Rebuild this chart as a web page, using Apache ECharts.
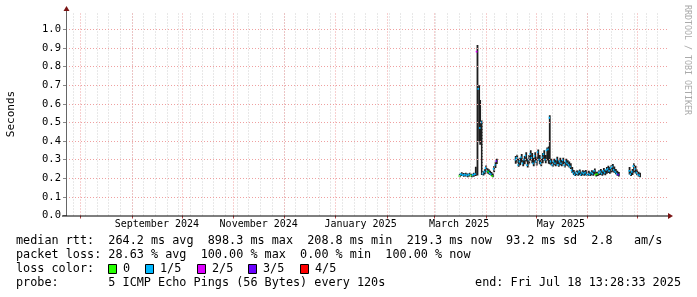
<!DOCTYPE html>
<html>
<head>
<meta charset="utf-8">
<script src="https://cdn.jsdelivr.net/npm/echarts@6.0.0/dist/echarts.min.js"></script>
<style>
html,body{margin:0;padding:0;background:#fff;}
#chart{width:697px;height:297px;}
</style>
</head>
<body>
<div id="chart"></div>
<script>
// ---- data (day offsets from 2025-03-01 UTC) ----
const days = [
  15.4,16.6,17.8,19.0,20.2,21.4,22.6,23.8,25.0,26.0,27.0,27.6,28.6,29.6,30.4,31.2,32.0,32.8,33.6,34.4,35.2,36.0,36.8,37.6,
  48.9,49.8,50.7,51.6,52.5,53.4,54.3,55.2,56.1,57.0,57.9,58.8,59.7,60.6,61.5,62.4,63.3,64.2,65.1,66.0,66.9,67.8,68.7,69.3,
  70.2,71.1,72.0,72.9,73.8,74.7,75.6,76.5,77.4,78.3,79.2,80.1,81.0,81.9,82.8,83.7,84.6,85.5,86.4,87.3,88.2,89.1,90.0,90.9,
  91.8,92.7,93.6,94.5,95.4,96.3,97.2,98.1,99.0,99.9,100.8,101.7,102.6,103.5,104.4,105.3,106.2,107.1,108.0,108.9,109.8,110.7,
  117.1,118.0,118.9,119.8,120.7,121.6,122.5,123.4
];
const medianSec = [
  .212,.222,.217,.220,.215,.219,.214,.218,.222,.880,.680,.470,.500,.225,.235,.255,.240,.235,.228,.222,.212,.250,.272,.292,
  .300,.310,.272,.290,.312,.280,.300,.322,.270,.300,.330,.310,.280,.320,.290,.340,.300,.282,.312,.330,.300,.350,.355,.525,
  .290,.272,.290,.280,.300,.272,.290,.280,.298,.270,.290,.280,.272,.262,.242,.230,.220,.230,.225,.235,.220,.230,.225,.230,
  .220,.225,.220,.230,.225,.240,.220,.222,.230,.235,.225,.240,.230,.245,.250,.240,.255,.262,.245,.235,.225,.220,
  .240,.222,.235,.265,.250,.230,.220,.215
];
const smokeLo = [
  .205,.212,.208,.210,.206,.210,.205,.208,.212,.215,.400,.380,.218,.215,.222,.236,.226,.222,.218,.212,.205,.232,.255,.276,
  .278,.285,.262,.270,.285,.265,.275,.290,.258,.275,.295,.280,.265,.285,.268,.295,.275,.265,.280,.295,.280,.295,.278,.275,
  .270,.262,.270,.264,.275,.262,.270,.264,.275,.258,.268,.264,.258,.250,.228,.218,.212,.216,.214,.218,.212,.216,.214,.216,
  .212,.214,.212,.216,.214,.220,.210,.212,.216,.218,.214,.220,.216,.224,.228,.224,.230,.235,.228,.222,.214,.210,
  .220,.212,.218,.230,.226,.216,.210,.206
];
const smokeHi = [
  .224,.232,.228,.230,.226,.230,.224,.229,.262,.915,.700,.620,.510,.238,.248,.268,.254,.248,.240,.234,.226,.266,.286,.305,
  .320,.326,.305,.310,.330,.305,.320,.340,.305,.325,.350,.335,.310,.340,.315,.355,.325,.305,.335,.350,.325,.365,.370,.538,
  .305,.295,.305,.300,.315,.295,.310,.300,.310,.290,.305,.297,.290,.280,.260,.245,.235,.243,.240,.247,.235,.243,.240,.245,
  .235,.240,.233,.243,.240,.253,.235,.235,.245,.250,.240,.255,.245,.260,.267,.260,.270,.277,.263,.250,.240,.233,
  .260,.237,.250,.280,.267,.247,.235,.230
];
// loss level per step (number of lost pings out of 5)
const lossLevel = [
  0,1,1,1,1,1,0,1,1,2,1,1,1,1,1,1,1,0,1,1,0,1,1,3,
  1,1,1,1,1,1,1,1,1,1,1,1,1,1,1,1,1,1,1,1,1,1,1,1,
  1,1,1,1,1,1,1,1,1,1,1,1,1,1,1,1,1,1,1,1,1,1,1,1,
  1,1,1,1,1,1,0,0,1,1,1,1,1,1,1,1,1,1,1,1,1,3,
  1,1,1,1,1,1,1,1
];
const lossLabels = ['0','1/5','2/5','3/5','4/5'];
const lossColors = ['#26ff00','#00b8ff','#dd00ff','#6a00ff','#ff0000'];

const yTickValues = [0.0,0.1,0.2,0.3,0.4,0.5,0.6,0.7,0.8,0.9,1.0];
const xLabelTexts = ['September 2024','November 2024','January 2025','March 2025','May 2025'];
const xLabelDates = [[2024,8,16],[2024,10,16],[2025,0,16],[2025,2,16],[2025,4,16]];

const legendRtt = 'median rtt:  264.2 ms avg  898.3 ms max  208.8 ms min  219.3 ms now  93.2 ms sd  2.8   am/s';
const legendLoss = 'packet loss: 28.63 % avg  100.00 % max  0.00 % min  100.00 % now';
const legendProbe = 'probe:       5 ICMP Echo Pings (56 Bytes) every 120s';
const legendEnd = 'end: Fri Jul 18 13:28:33 2025';

// ---- build ----
const DAY = 86400000;
const T0 = Date.UTC(2025,2,1);
const START = Date.UTC(2024,6,23,13,28,33);
const END = Date.UTC(2025,6,18,13,28,33);

const pts = days.map((d,i)=>{
  const t = T0 + d*DAY;
  let pt = -1, pm = -1;
  if (i>0 && d - days[i-1] < 3) { pt = T0 + days[i-1]*DAY; pm = medianSec[i-1]; }
  return [t, medianSec[i], smokeLo[i], smokeHi[i], lossLevel[i], pt, pm];
});

const monthLines = [];
for (let k=0;k<12;k++){ monthLines.push(Date.UTC(2024,7+k,1)); }
const weekLines = [];
for (let t=Date.UTC(2024,6,28); t<END; t+=7*DAY) weekLines.push(t);
const xLabelTs = xLabelDates.map(a=>Date.UTC(a[0],a[1],a[2]));

const MONO = 'DejaVu Sans Mono';
const LF = '11.8px "DejaVu Sans Mono"';
const chart = echarts.init(document.getElementById('chart'), null, {renderer:'canvas'});

const gridL = 66, gridT = 13, gridW = 601, gridH = 202.5;
const axisY = gridT + gridH;

const option = {
  animation:false,
  backgroundColor:'#ffffff',
  grid:{left:gridL, top:gridT, width:gridW, height:gridH, containLabel:false},
  xAxis:{
    type:'value', min:START, max:END,
    axisLine:{show:false},
    splitLine:{show:false},
    axisTick:{show:true, customValues:monthLines, length:3, lineStyle:{color:'#b04040'}},
    axisLabel:{
      customValues:xLabelTs, margin:4, fontFamily:MONO, fontSize:10, color:'#000',
      formatter:(v)=>{ const i = xLabelTs.indexOf(v); return i>=0 ? xLabelTexts[i] : ''; }
    }
  },
  yAxis:{
    type:'value', min:0, max:1.0875,
    axisLine:{show:false},
    splitLine:{show:false},
    axisTick:{show:true, customValues:yTickValues, length:3, lineStyle:{color:'#888'}},
    axisLabel:{customValues:yTickValues, margin:5, fontFamily:MONO, fontSize:10.5, color:'#000',
      formatter:(v)=>v.toFixed(1)}
  },
  series:[
    {
      type:'line', data:[], silent:true,
      markLine:{
        silent:true, symbol:['none','none'], label:{show:false}, animation:false,
        lineStyle:{color:'#d0d0d0', type:[1,2], width:1},
        data: weekLines.map(t=>({xAxis:t}))
      }
    },
    {
      type:'line', data:[], silent:true,
      markLine:{
        silent:true, symbol:['none','none'], label:{show:false}, animation:false,
        lineStyle:{color:'#efa0a0', type:[1,2], width:1},
        data: monthLines.map(t=>({xAxis:t})).concat(yTickValues.filter(v=>v>0).map(v=>({yAxis:v})))
      }
    },
    {
      type:'custom', clip:true, silent:true,
      data: pts,
      renderItem:(params, api)=>{
        const t = api.value(0);
        const a = api.coord([t - 0.5*DAY, api.value(3)]);
        const b = api.coord([t + 0.5*DAY, api.value(2)]);
        return {type:'rect', shape:{x:a[0], y:a[1], width:Math.max(1.8,b[0]-a[0]), height:Math.max(1,b[1]-a[1])},
          style:{fill:'#1e1e1e'}};
      }
    },
    {
      type:'custom', clip:true, silent:true,
      data: pts,
      renderItem:(params, api)=>{
        const t = api.value(0), m = api.value(1), loss = api.value(4), pt = api.value(5), pm = api.value(6);
        const c = api.coord([t, m]);
        const col = lossColors[loss];
        const x0 = pt > 0 ? api.coord([pt, pm])[0] : c[0]-1;
        return {type:'rect', shape:{x:x0, y:c[1]-0.9, width:Math.max(1.4, c[0]-x0), height:1.8}, style:{fill:col}};
      }
    }
  ],
  graphic:[
    // axes
    {type:'line', shape:{x1:gridL+0.5, y1:axisY+0.5, x2:gridL+0.5, y2:10}, style:{stroke:'#666', lineWidth:1}, z:50},
    {type:'polygon', shape:{points:[[gridL-2.5,11],[gridL+3.5,11],[gridL+0.5,6]]}, style:{fill:'#7a1414'}, z:51},
    {type:'line', shape:{x1:62, y1:axisY+0.5, x2:gridL+gridW+1, y2:axisY+0.5}, style:{stroke:'#000', lineWidth:1}, z:50},
    {type:'polygon', shape:{points:[[gridL+gridW+1,axisY-2.5],[gridL+gridW+1,axisY+3.5],[gridL+gridW+6,axisY+0.5]]}, style:{fill:'#7a1414'}, z:51},
    // titles
    {type:'text', x:11, y:114, rotation:Math.PI/2, style:{text:'Seconds', font:'11px "DejaVu Sans Mono"', fill:'#000', align:'center', verticalAlign:'middle'}},
    {type:'text', x:687, y:5, rotation:-Math.PI/2, style:{text:'RRDTOOL / TOBI OETIKER', font:'8.3px "DejaVu Sans Mono"', fill:'#aaaaaa', align:'left', verticalAlign:'middle'}},
    // legend
    {type:'text', x:16, y:241, style:{text:legendRtt, font:LF, fill:'#000', verticalAlign:'middle'}},
    {type:'text', x:16, y:255, style:{text:legendLoss, font:LF, fill:'#000', verticalAlign:'middle'}},
    {type:'text', x:16, y:269, style:{text:'loss color:', font:LF, fill:'#000', verticalAlign:'middle'}},
    {type:'text', x:16, y:283, style:{text:legendProbe, font:LF, fill:'#000', verticalAlign:'middle'}},
    {type:'text', x:681, y:283, style:{text:legendEnd, font:LF, fill:'#000', align:'right', verticalAlign:'middle'}}
  ].concat(lossLabels.flatMap((lab,i)=>{
    const bx = [108,145,197,248,300][i];
    return [
      {type:'rect', shape:{x:bx+0.5, y:264.5, width:8, height:9}, style:{fill:lossColors[i], stroke:'#000', lineWidth:1}},
      {type:'text', x:bx+15, y:269, style:{text:lab, font:LF, fill:'#000', verticalAlign:'middle'}}
    ];
  }))
};
chart.setOption(option);
</script>
</body>
</html>
